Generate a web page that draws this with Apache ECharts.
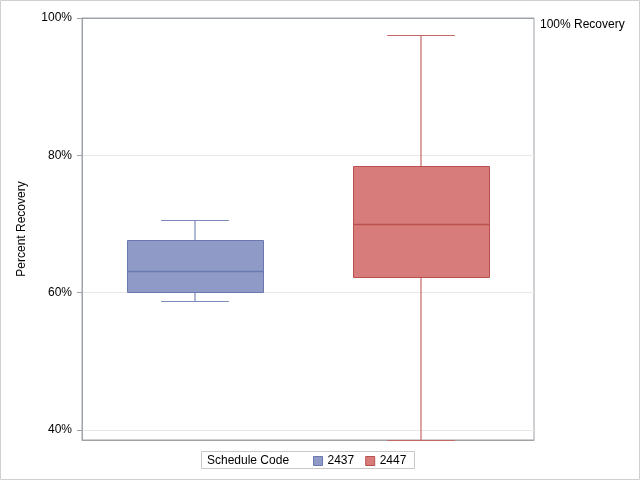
<!DOCTYPE html>
<html><head><meta charset="utf-8">
<script src="https://cdn.jsdelivr.net/npm/echarts@6/dist/echarts.min.js"></script>
<style>html,body{margin:0;padding:0;background:#fff}#c{width:640px;height:480px}</style>
</head><body><div id="c"></div>
<script>
const categories = ['2437', '2447'];
// [min, Q1, median, Q3, max] in percent
const box2437 = [58.85, 60.2, 63.2, 67.7, 70.6];
const box2447 = [38.6, 62.3, 70.0, 78.5, 97.5];
const tickValues = [40, 60, 80, 100];
const refValue = 100;
const refLabel = '100% Recovery';
const yMin = 38.55, yMax = 100;

const FONT = '"Liberation Sans", Arial, sans-serif';
const colors = [
  {fill: '#8f9bc6', stroke: '#6b79b1', whisker: '#7c89bb'},
  {fill: '#d87c7b', stroke: '#b9504e', whisker: '#c46866'}
];

function makeRender(ci) {
  const c = colors[ci];
  return function (params, api) {
    const x = api.value(0);
    const lo = api.value(1), q1 = api.value(2), med = api.value(3), q3 = api.value(4), hi = api.value(5);
    const band = api.size([1, 0])[0];
    const bw = band * 0.6, cw = band * 0.3;
    const pLo = api.coord([x, lo]), pQ1 = api.coord([x, q1]), pMed = api.coord([x, med]),
          pQ3 = api.coord([x, q3]), pHi = api.coord([x, hi]);
    const cx = Math.round(pMed[0]);
    const r = v => Math.round(v) + 0.5;
    const ws = () => ({stroke: c.whisker, lineWidth: 1.2, fill: null});
    return {
      type: 'group',
      children: [
        {type: 'line', shape: {x1: cx, y1: r(pHi[1]), x2: cx, y2: r(pQ3[1])}, style: ws(), z2: 5},
        {type: 'line', shape: {x1: cx, y1: r(pQ1[1]), x2: cx, y2: r(pLo[1])}, style: ws(), z2: 5},
        {type: 'line', shape: {x1: cx - cw / 2, y1: r(pHi[1]), x2: cx + cw / 2, y2: r(pHi[1])}, style: ws(), z2: 5},
        {type: 'line', shape: {x1: cx - cw / 2, y1: r(pLo[1]), x2: cx + cw / 2, y2: r(pLo[1])}, style: ws(), z2: 5},
        {type: 'rect', shape: {x: r(cx - bw / 2), y: r(pQ3[1]), width: Math.round(bw), height: Math.round(pQ1[1] - pQ3[1])},
          style: {fill: c.fill, stroke: c.stroke, lineWidth: 1}, z2: 6},
        {type: 'line', shape: {x1: r(cx - bw / 2), y1: r(pMed[1]), x2: r(cx - bw / 2) + Math.round(bw), y2: r(pMed[1])},
          style: {stroke: c.stroke, lineWidth: 1.5, fill: null}, z2: 7}
      ]
    };
  };
}

const chart = echarts.init(document.getElementById('c'), null, {renderer: 'canvas'});
chart.setOption({
  animation: false,
  backgroundColor: '#fff',
  textStyle: {fontFamily: FONT},
  grid: {left: 82, top: 18, right: 106, bottom: 40, show: true, borderColor: '#9ea3a8', borderWidth: 1},
  xAxis: {
    type: 'category', data: categories,
    axisLine: {show: true, lineStyle: {color: '#9ea3a8'}},
    axisTick: {show: false}, axisLabel: {show: false}, splitLine: {show: false}
  },
  yAxis: {
    type: 'value', min: yMin, max: yMax,
    name: 'Percent Recovery', nameLocation: 'middle', nameGap: 54,
    nameTextStyle: {fontSize: 12, color: '#000', fontFamily: FONT},
    axisLine: {show: true, lineStyle: {color: '#9ea3a8'}},
    axisTick: {show: true, length: 5, customValues: tickValues, lineStyle: {color: '#9ea3a8'}},
    axisLabel: {customValues: tickValues, formatter: v => v + '%', fontSize: 12, color: '#000', margin: 10, fontFamily: FONT},
    splitLine: {show: true, lineStyle: {color: '#e8e8e8'}}
  },
  legend: {
    left: 313, top: 455, padding: 0, itemWidth: 9, itemHeight: 9, itemGap: 11,
    textStyle: {fontSize: 12, color: '#000', fontFamily: FONT},
    data: [
      {name: categories[0], icon: 'rect', itemStyle: {color: colors[0].fill, borderColor: colors[0].stroke, borderWidth: 1}},
      {name: categories[1], icon: 'rect', itemStyle: {color: colors[1].fill, borderColor: colors[1].stroke, borderWidth: 1}}
    ]
  },
  graphic: [
    {type: 'rect', shape: {x: 0.5, y: 0.5, width: 639, height: 479}, style: {fill: 'none', stroke: '#d0d0d0', lineWidth: 1}, silent: true},
    {type: 'rect', shape: {x: 201.5, y: 451.5, width: 213, height: 17}, style: {fill: 'none', stroke: '#c8c8c8', lineWidth: 1}, silent: true, z: 0},
    {type: 'text', x: 207, y: 461, style: {text: 'Schedule Code', fontSize: 12, fontFamily: FONT, fill: '#000', verticalAlign: 'middle'}}
  ],
  series: [
    {
      name: categories[0], type: 'custom', renderItem: makeRender(0), z: 5,
      itemStyle: {color: colors[0].fill, borderColor: colors[0].stroke},
      encode: {x: 0, y: [1, 2, 3, 4, 5]},
      data: [[0].concat(box2437)],
      markLine: {
        silent: true, symbol: 'none',
        lineStyle: {color: '#9ea3a8', type: 'solid', width: 1},
        label: {show: true, position: 'end', formatter: refLabel, color: '#000', fontSize: 12, fontFamily: FONT, distance: 6, verticalAlign: 'top', padding: [1, 0, 0, 0]},
        data: [{yAxis: refValue}]
      }
    },
    {
      name: categories[1], type: 'custom', renderItem: makeRender(1), z: 5,
      itemStyle: {color: colors[1].fill, borderColor: colors[1].stroke},
      encode: {x: 0, y: [1, 2, 3, 4, 5]},
      data: [[1].concat(box2447)]
    }
  ]
});
</script></body></html>
